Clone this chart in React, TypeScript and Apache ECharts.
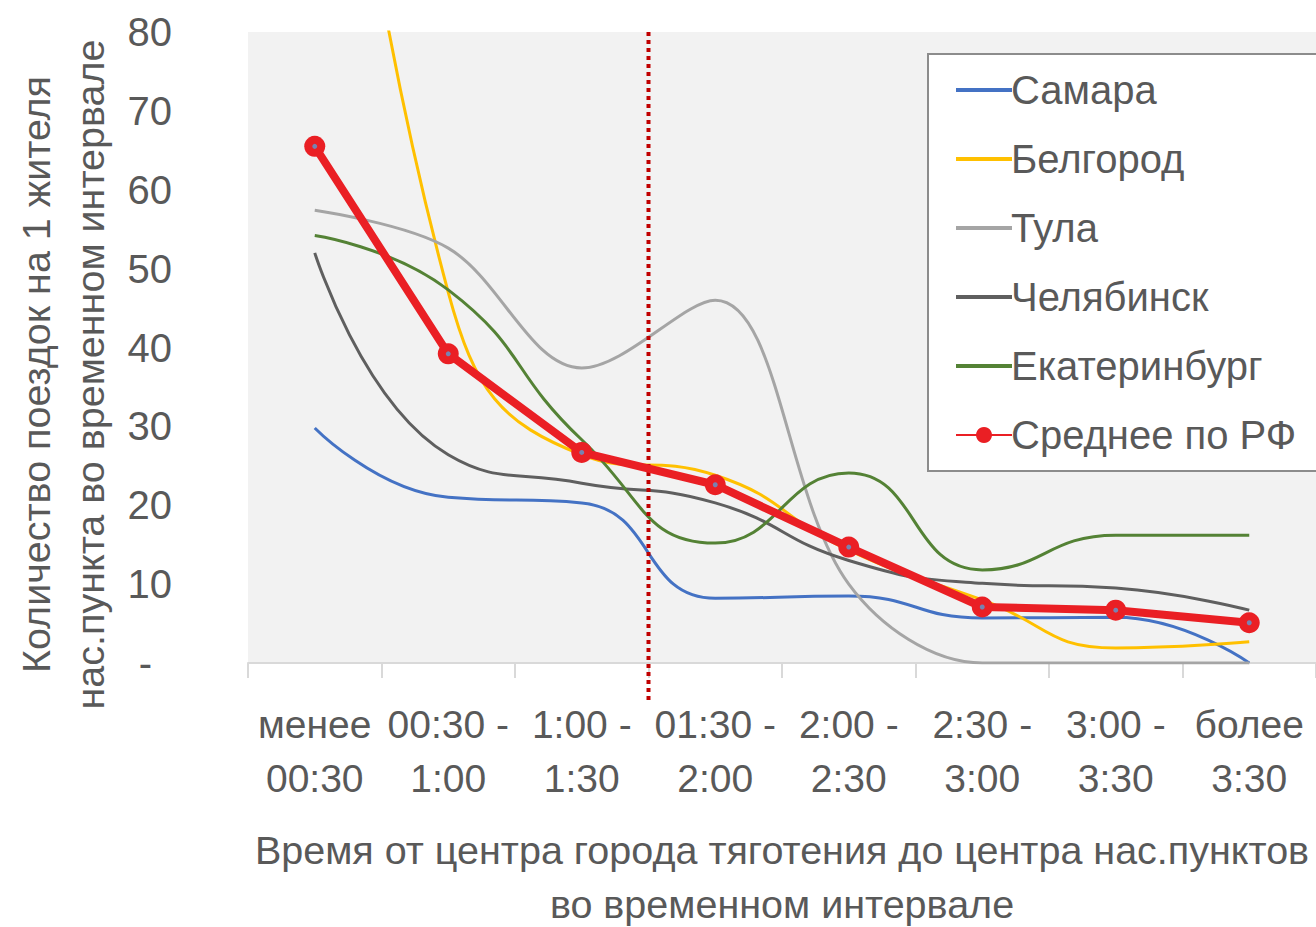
import React, { useEffect, useRef } from "react";
import * as echarts from "echarts";

const categories = [
  "менее\n00:30",
  "00:30 -\n1:00",
  "1:00 -\n1:30",
  "01:30 -\n2:00",
  "2:00 -\n2:30",
  "2:30 -\n3:00",
  "3:00 -\n3:30",
  "более\n3:30",
];

const samara = [29.8, 21.0, 20.3, 8.2, 8.5, 5.7, 5.8, 0];
const belgorod = [152, 47, 26.4, 23.8, 14.3, 8.0, 1.9, 2.7];
const tula = [57.4, 52.6, 37.4, 46.0, 10.0, 0, 0, 0];
const chelyabinsk = [52.0, 26.4, 22.8, 20.3, 13.0, 10.1, 9.5, 6.7];
const ekaterinburg = [54.2, 47.3, 28.3, 15.2, 24.1, 11.8, 16.2, 16.2];
const average = [65.5, 39.2, 26.7, 22.6, 14.7, 7.1, 6.7, 5.1];

const yTicks = { min: 0, max: 80, interval: 10 };
const dividerPos = 3; // boundary between "1:00 - 1:30" and "01:30 - 2:00"

const FONT = "Liberation Sans";
const TEXT = "#595959";

export default function App() {
  const ref = useRef<HTMLDivElement>(null);
  useEffect(() => {
    if (!ref.current) return;
    const chart = echarts.init(ref.current, undefined, { renderer: "svg" });
    const thin = (name: string, data: number[], color: string, smooth = 0.5) => ({
      name,
      type: "line",
      data,
      smooth,
      symbol: "circle",
      showSymbol: false,
      clip: true,
      lineStyle: { color, width: 3 },
      itemStyle: { color: "rgba(0,0,0,0)" },
      z: 3,
    });
    const thinLegend = (name: string) => ({ name, lineStyle: { width: 4 } });
    chart.setOption({
      animation: false,
      textStyle: { fontFamily: FONT },
      grid: {
        left: 248,
        right: 0,
        top: 32,
        bottom: 264,
        outerBoundsMode: "none",
        containLabel: false,
        show: true,
        backgroundColor: "#f2f2f2",
        borderWidth: 0,
      },
      legend: {
        orient: "vertical",
        left: 928,
        top: 54,
        data: [
          thinLegend("Самара"),
          thinLegend("Белгород"),
          thinLegend("Тула"),
          thinLegend("Челябинск"),
          thinLegend("Екатеринбург"),
          { name: "Среднее по РФ" },
        ],
        backgroundColor: "#ffffff",
        borderColor: "#8c8c8c",
        borderWidth: 2,
        padding: [12, 30, 12, 26],
        itemGap: 21,
        itemWidth: 56,
        itemHeight: 20,
        textStyle: { fontFamily: FONT, fontSize: 40, color: TEXT, lineHeight: 48, padding: [0, 0, 0, -6] },
      },
      xAxis: [
        {
          type: "category",
          data: categories,
          boundaryGap: true,
          axisLine: { show: true, lineStyle: { color: "#d9d9d9", width: 2 } },
          axisTick: { show: true, length: 15, lineStyle: { color: "#d9d9d9", width: 2 } },
          axisLabel: {
            interval: 0,
            margin: 34,
            fontFamily: FONT,
            fontSize: 39,
            lineHeight: 54,
            color: TEXT,
          },
          name: "Время от центра города тяготения до центра нас.пунктов\nво временном интервале",
          nameLocation: "middle",
          nameGap: 160,
          nameTextStyle: { fontFamily: FONT, fontSize: 39.5, lineHeight: 54, color: TEXT },
        },
        {
          type: "value",
          min: 0,
          max: 8,
          show: false,
        },
      ],
      yAxis: {
        type: "value",
        min: yTicks.min,
        max: yTicks.max,
        interval: yTicks.interval,
        splitLine: { show: false },
        axisLine: { show: false },
        axisTick: { show: false },
        axisLabel: {
          margin: 76,
          fontFamily: FONT,
          fontSize: 40,
          color: TEXT,
          formatter: (v: number) => (v === 0 ? "{d|-}" : String(v)),
          rich: { d: { fontFamily: FONT, fontSize: 40, color: TEXT, padding: [0, 20, 0, 0] } },
        },
        name: "Количество поездок на 1 жителя\nнас.пункта во временном интервале",
        nameLocation: "middle",
        nameGap: 128,
        nameTextStyle: {
          fontFamily: FONT,
          fontSize: 39.5,
          lineHeight: 54,
          color: TEXT,
          padding: [0, 54, 0, 0],
        },
      },
      series: [
        thin("Самара", samara, "#4472c4"),
        thin("Белгород", belgorod, "#ffc000"),
        thin("Тула", tula, "#a5a5a5", 0.35),
        thin("Челябинск", chelyabinsk, "#5f5f5f"),
        thin("Екатеринбург", ekaterinburg, "#548235"),
        {
          name: "Среднее по РФ",
          type: "line",
          data: average,
          smooth: false,
          symbol: "circle",
          symbolSize: 21,
          lineStyle: { color: "#ea1f24", width: 8 },
          itemStyle: { color: "#ea1f24" },
          z: 5,
        },
        {
          name: "avgDot",
          type: "scatter",
          data: average,
          symbol: "circle",
          symbolSize: 5,
          itemStyle: { color: "#5b9bd5" },
          silent: true,
          z: 6,
        },
        {
          name: "divider",
          type: "line",
          xAxisIndex: 1,
          data: [
            [dividerPos, -4.7],
            [dividerPos, 80],
          ],
          symbol: "none",
          clip: false,
          lineStyle: { color: "#c00000", width: 4, type: [4, 4] },
          z: 4,
        },
      ],
    });
    return () => chart.dispose();
  }, []);
  return (
    <div
      ref={ref}
      style={{ position: "fixed", left: 0, top: 0, width: 1316, height: 927, background: "#fff" }}
    />
  );
}
